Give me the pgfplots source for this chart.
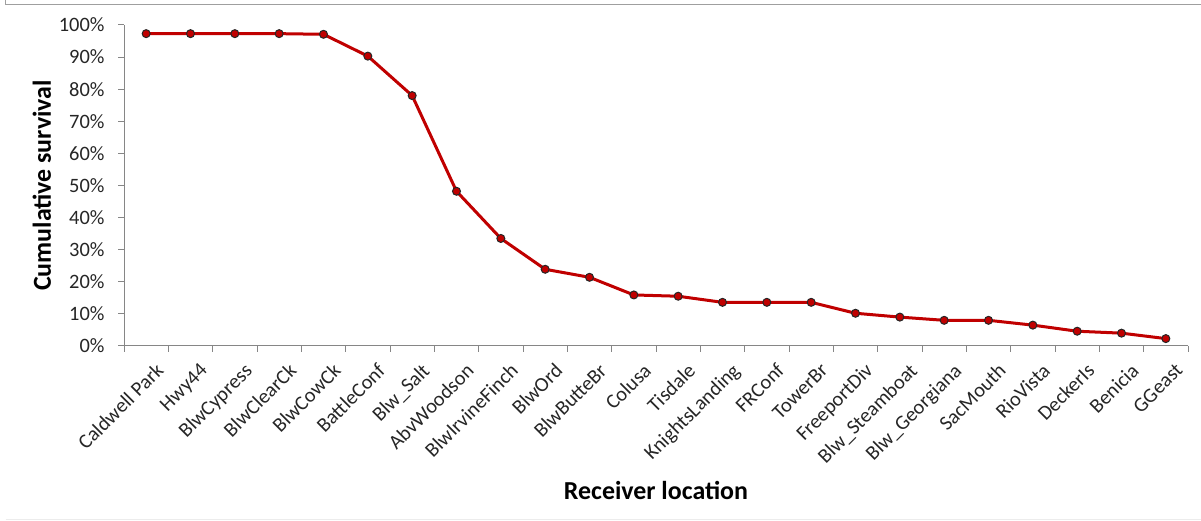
\documentclass[border=0pt]{standalone}
\usepackage{pgfplots}
\pgfplotsset{compat=1.18}
\usepackage{fontspec}
\setmainfont{Carlito}
\definecolor{linered}{RGB}{192,0,0}
\definecolor{axisgray}{RGB}{134,134,134}
\begin{document}
\begin{tikzpicture}[x=1bp,y=1bp]
\path[use as bounding box] (0,0) rectangle (1201,521);
\draw[line width=1.5bp, color=gray!75] (5.5,521) -- (5.5,516.5) -- (1201,516.5);
\draw[line width=0.8bp, color=gray!15] (5.5,2) -- (1201,2);
\begin{axis}[
  at={(124bp,175bp)}, anchor=south west,
  scale only axis, width=1064bp, height=321bp,
  xmin=-0.5, xmax=23.5, ymin=0, ymax=100,
  axis lines=left,
  axis line style={-, draw=axisgray, line width=1bp},
  tick align=outside, tick pos=left,
  major tick length=6bp,
  tick style={draw=axisgray, line width=1bp},
  xtick={-0.5,0.5,...,23.5},
  x tick label as interval=true,
  xticklabels={Caldwell Park,Hwy44,BlwCypress,BlwClearCk,BlwCowCk,BattleConf,Blw\_Salt,AbvWoodson,BlwIrvineFinch,BlwOrd,BlwButteBr,Colusa,Tisdale,KnightsLanding,FRConf,TowerBr,FreeportDiv,Blw\_Steamboat,Blw\_Georgiana,SacMouth,RioVista,DeckerIs,Benicia,GGeast},
  xticklabel style={rotate=45, anchor=north east, font=\fontsize{20.5}{22}\selectfont, color=black!85, inner sep=1bp, xshift=0bp, yshift=-12bp},
  ytick={0,10,...,100},
  yticklabels={0\%,10\%,20\%,30\%,40\%,50\%,60\%,70\%,80\%,90\%,100\%},
  yticklabel style={font=\fontsize{20.5}{22}\selectfont, color=black!85, xshift=-10bp},
  xlabel={Receiver location},
  ylabel={Cumulative survival},
  xlabel style={at={(axis description cs:0.5,-0.4486)}, anchor=center, font=\fontsize{26}{28}\bfseries},
  ylabel style={at={(axis description cs:-0.0771,0.5)}, anchor=center, font=\fontsize{26}{28}\bfseries},
  clip=false,
]
\addplot[color=linered, line width=3bp, mark=*, mark size=4bp,
  mark options={fill=linered, draw=black!85, line width=1bp}]
coordinates {
(0,97.3) (1,97.3) (2,97.3) (3,97.3) (4,97.1) (5,90.3) (6,78.0) (7,48.2)
(8,33.5) (9,23.9) (10,21.4) (11,15.9) (12,15.5) (13,13.6) (14,13.6) (15,13.6)
(16,10.2) (17,9.0) (18,8.0) (19,8.0) (20,6.5) (21,4.6) (22,4.0) (23,2.3)
};
\end{axis}
\end{tikzpicture}
\end{document}
